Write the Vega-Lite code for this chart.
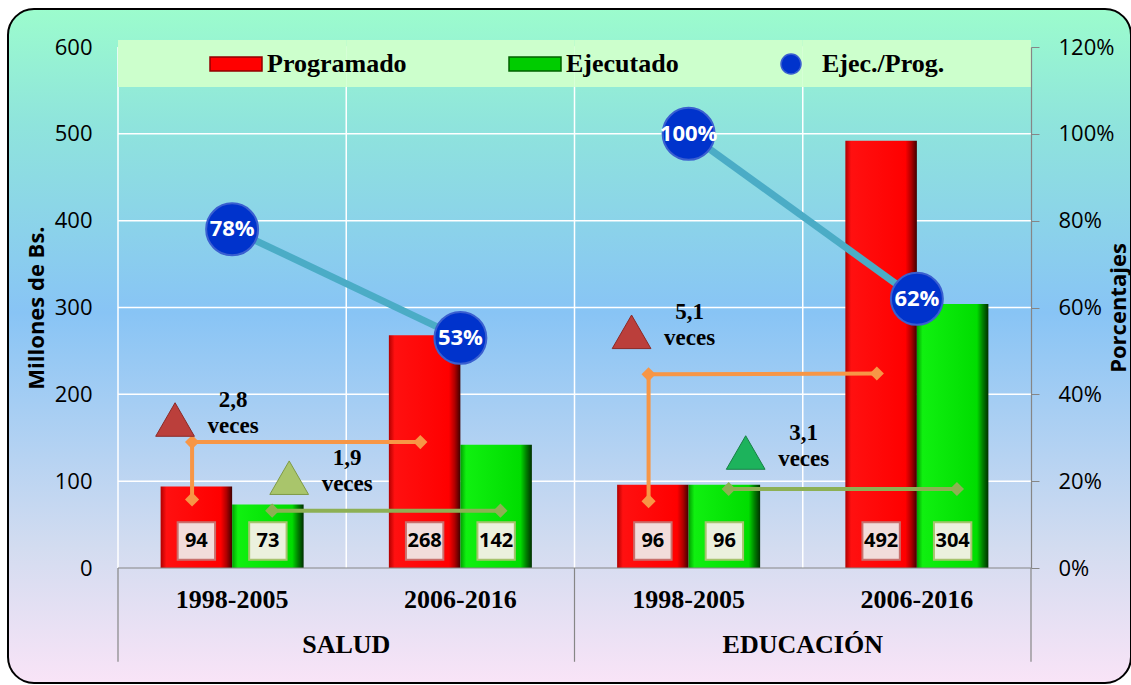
{
  "$schema": "https://vega.github.io/schema/vega-lite/v6.json",
  "width": 1123,
  "height": 674,
  "autosize": {"type": "none"},
  "padding": {"left": 8, "top": 9, "right": 0, "bottom": 2},
  "background": "#ffffff",
  "datasets": {
    "valores": [
      {"cat": "SALUD|1998-2005", "grupo": "SALUD", "periodo": "1998-2005", "serie": "Programado", "valor": 94},
      {"cat": "SALUD|1998-2005", "grupo": "SALUD", "periodo": "1998-2005", "serie": "Ejecutado", "valor": 73},
      {"cat": "SALUD|2006-2016", "grupo": "SALUD", "periodo": "2006-2016", "serie": "Programado", "valor": 268},
      {"cat": "SALUD|2006-2016", "grupo": "SALUD", "periodo": "2006-2016", "serie": "Ejecutado", "valor": 142},
      {"cat": "EDUCACIÓN|1998-2005", "grupo": "EDUCACIÓN", "periodo": "1998-2005", "serie": "Programado", "valor": 96},
      {"cat": "EDUCACIÓN|1998-2005", "grupo": "EDUCACIÓN", "periodo": "1998-2005", "serie": "Ejecutado", "valor": 96},
      {"cat": "EDUCACIÓN|2006-2016", "grupo": "EDUCACIÓN", "periodo": "2006-2016", "serie": "Programado", "valor": 492},
      {"cat": "EDUCACIÓN|2006-2016", "grupo": "EDUCACIÓN", "periodo": "2006-2016", "serie": "Ejecutado", "valor": 304}
    ],
    "ratio": [
      {"cat": "SALUD|1998-2005", "grupo": "SALUD", "periodo": "1998-2005", "serie": "Ejec./Prog.", "pct": 0.78},
      {"cat": "SALUD|2006-2016", "grupo": "SALUD", "periodo": "2006-2016", "serie": "Ejec./Prog.", "pct": 0.53},
      {"cat": "EDUCACIÓN|1998-2005", "grupo": "EDUCACIÓN", "periodo": "1998-2005", "serie": "Ejec./Prog.", "pct": 1.0},
      {"cat": "EDUCACIÓN|2006-2016", "grupo": "EDUCACIÓN", "periodo": "2006-2016", "serie": "Ejec./Prog.", "pct": 0.62}
    ],
    "rejilla": [{"v": 100}, {"v": 200}, {"v": 300}, {"v": 400}, {"v": 500}, {"v": 600}],
    "veces": [
      {"cat": "SALUD|1998-2005", "grupo": "SALUD", "serie": "Programado", "nivel": 171, "texto": "2,8 veces"},
      {"cat": "SALUD|1998-2005", "grupo": "SALUD", "serie": "Ejecutado", "nivel": 104, "texto": "1,9 veces"},
      {"cat": "EDUCACIÓN|1998-2005", "grupo": "EDUCACIÓN", "serie": "Programado", "nivel": 272, "texto": "5,1 veces"},
      {"cat": "EDUCACIÓN|1998-2005", "grupo": "EDUCACIÓN", "serie": "Ejecutado", "nivel": 133, "texto": "3,1 veces"}
    ],
    "conectores": [
      {"cat": "SALUD|1998-2005", "grupo": "SALUD", "serie": "Programado", "orden": 1, "nivel": 79},
      {"cat": "SALUD|1998-2005", "grupo": "SALUD", "serie": "Programado", "orden": 2, "nivel": 145},
      {"cat": "SALUD|2006-2016", "grupo": "SALUD", "serie": "Programado", "orden": 3, "nivel": 145},
      {"cat": "SALUD|1998-2005", "grupo": "SALUD", "serie": "Ejecutado", "orden": 1, "nivel": 66},
      {"cat": "SALUD|2006-2016", "grupo": "SALUD", "serie": "Ejecutado", "orden": 2, "nivel": 66},
      {"cat": "EDUCACIÓN|1998-2005", "grupo": "EDUCACIÓN", "serie": "Programado", "orden": 1, "nivel": 77},
      {"cat": "EDUCACIÓN|1998-2005", "grupo": "EDUCACIÓN", "serie": "Programado", "orden": 2, "nivel": 223},
      {"cat": "EDUCACIÓN|2006-2016", "grupo": "EDUCACIÓN", "serie": "Programado", "orden": 3, "nivel": 224},
      {"cat": "EDUCACIÓN|1998-2005", "grupo": "EDUCACIÓN", "serie": "Ejecutado", "orden": 1, "nivel": 91},
      {"cat": "EDUCACIÓN|2006-2016", "grupo": "EDUCACIÓN", "serie": "Ejecutado", "orden": 2, "nivel": 91}
    ]
  },
  "layer": [
    {
      "data": {"values": [{}]},
      "mark": {
        "type": "rect",
        "fill": {"gradient": "linear", "x1": 0, "y1": 0, "x2": 0, "y2": 1, "stops": [
          {"offset": 0, "color": "#9cfccd"},
          {"offset": 0.17, "color": "#8fe4dc"},
          {"offset": 0.45, "color": "#88c4f5"},
          {"offset": 0.8, "color": "#d3dcf0"},
          {"offset": 1, "color": "#f9e4f7"}
        ]},
        "stroke": "#000000",
        "strokeWidth": 2,
        "cornerRadius": 26
      },
      "encoding": {}
    },
    {
      "data": {"name": "rejilla"},
      "mark": {"type": "rule", "color": "#ffffff", "strokeWidth": 1.5},
      "encoding": {
        "x": {"datum": "SALUD|1998-2005", "type": "nominal", "bandPosition": 0, "axis": null, "title": null},
        "x2": {"datum": "EDUCACIÓN|2006-2016", "bandPosition": 1},
        "y": {"field": "v", "type": "quantitative", "axis": null, "scale": {"domain": [0, 600], "nice": false, "zero": true, "range": [559, 38]}}
      }
    },
    {
      "data": {"name": "ratio"},
      "mark": {"type": "rule", "color": "#ffffff", "strokeWidth": 1.5},
      "encoding": {
        "x": {"field": "cat", "type": "nominal", "bandPosition": 0, "axis": null, "title": null},
        "y": {"datum": 0, "type": "quantitative", "axis": null, "scale": {"domain": [0, 600], "nice": false, "zero": true, "range": [559, 38]}},
        "y2": {"datum": 600}
      }
    },
    {
      "data": {"name": "ratio"},
      "mark": {"type": "bar", "width": {"band": 1}, "fill": "#ccffcc", "stroke": null},
      "encoding": {
        "x": {"field": "cat", "type": "nominal", "axis": null, "title": null},
        "y": {"datum": 608, "type": "quantitative", "axis": null, "scale": {"domain": [0, 600], "nice": false, "zero": true, "range": [559, 38]}},
        "y2": {"datum": 554}
      }
    },
    {
      "data": {"name": "valores"},
      "mark": {"type": "bar", "stroke": null},
      "encoding": {
        "x": {
          "field": "cat",
          "type": "nominal",
          "title": null,
          "sort": null,
          "scale": {
            "type": "band",
            "domain": ["SALUD|1998-2005", "SALUD|2006-2016", "EDUCACIÓN|1998-2005", "EDUCACIÓN|2006-2016"],
            "range": [110, 1023],
            "paddingInner": 0,
            "paddingOuter": 0
          },
          "axis": null
        },
        "xOffset": {"field": "serie", "type": "nominal", "sort": null, "scale": {"type": "band", "domain": ["Programado", "Ejecutado"], "paddingInner": 0, "paddingOuter": 0.596}},
        "y": {
          "field": "valor",
          "type": "quantitative",
          "scale": {"domain": [0, 600], "nice": false, "zero": true, "range": [559, 38]},
          "axis": {
            "orient": "left",
            "offset": -110,
            "zindex": 1,
            "values": [0, 100, 200, 300, 400, 500, 600],
            "domain": false,
            "ticks": false,
            "grid": false,
            "labelPadding": 26,
            "labelFont": "Open Sans",
            "labelFontSize": 22,
            "labelColor": "#000000",
            "title": "Millones de Bs.",
            "titleFont": "Open Sans",
            "titleFontSize": 22,
            "titleFontWeight": "bold",
            "titleColor": "#000000",
            "titlePadding": 6
          }
        },
        "fill": {
          "condition": {"test": "datum.serie === 'Programado'", "value": {"gradient": "linear", "x1": 0, "y1": 0, "x2": 1, "y2": 0, "stops": [
            {"offset": 0, "color": "#b00000"},
            {"offset": 0.08, "color": "#ff1010"},
            {"offset": 0.84, "color": "#ff0000"},
            {"offset": 0.92, "color": "#b00000"},
            {"offset": 1, "color": "#400000"}
          ]}},
          "value": {"gradient": "linear", "x1": 0, "y1": 0, "x2": 1, "y2": 0, "stops": [
            {"offset": 0, "color": "#00a000"},
            {"offset": 0.08, "color": "#10f010"},
            {"offset": 0.84, "color": "#00dd00"},
            {"offset": 0.92, "color": "#008000"},
            {"offset": 1, "color": "#003000"}
          ]}
        }
      }
    },
    {
      "data": {"name": "valores"},
      "mark": {"type": "point", "shape": "square", "size": 1400, "filled": true, "opacity": 1, "strokeWidth": 2},
      "encoding": {
        "x": {"field": "cat", "type": "nominal", "axis": null, "title": null},
        "xOffset": {"field": "serie", "type": "nominal", "sort": null, "scale": {"type": "band", "domain": ["Programado", "Ejecutado"], "paddingInner": 0, "paddingOuter": 0.596}},
        "y": {"datum": 31, "type": "quantitative", "axis": null, "scale": {"domain": [0, 600], "nice": false, "zero": true, "range": [559, 38]}},
        "fill": {"condition": {"test": "datum.serie === 'Programado'", "value": "#f2dcdb"}, "value": "#ebf1de"},
        "stroke": {"condition": {"test": "datum.serie === 'Programado'", "value": "#c9706d"}, "value": "#a6c46e"}
      }
    },
    {
      "data": {"name": "valores"},
      "mark": {"type": "text", "font": "Open Sans", "fontWeight": "bold", "fontSize": 20, "color": "#000000", "baseline": "middle", "align": "center"},
      "encoding": {
        "x": {"field": "cat", "type": "nominal", "axis": null, "title": null},
        "xOffset": {"field": "serie", "type": "nominal", "sort": null, "scale": {"type": "band", "domain": ["Programado", "Ejecutado"], "paddingInner": 0, "paddingOuter": 0.596}},
        "y": {"datum": 31, "type": "quantitative", "axis": null, "scale": {"domain": [0, 600], "nice": false, "zero": true, "range": [559, 38]}},
        "text": {"field": "valor", "type": "quantitative"}
      }
    },
    {
      "data": {"name": "ratio"},
      "transform": [{"filter": "datum.cat === 'SALUD|1998-2005'"}],
      "mark": {"type": "rule", "color": "#868686", "strokeWidth": 1.2},
      "encoding": {
        "x": {"datum": "SALUD|1998-2005", "type": "nominal", "bandPosition": 0, "axis": null, "title": null},
        "x2": {"datum": "EDUCACIÓN|2006-2016", "bandPosition": 1},
        "y": {"datum": 0, "type": "quantitative", "axis": null, "scale": {"domain": [0, 600], "nice": false, "zero": true, "range": [559, 38]}}
      }
    },
    {
      "data": {"name": "ratio"},
      "transform": [{"filter": "datum.periodo === '1998-2005'"}],
      "mark": {"type": "rule", "color": "#868686", "strokeWidth": 1.2},
      "encoding": {
        "x": {"field": "cat", "type": "nominal", "bandPosition": 0, "axis": null, "title": null},
        "y": {"datum": 0, "type": "quantitative", "axis": null, "scale": {"domain": [0, 600], "nice": false, "zero": true, "range": [559, 38]}},
        "y2": {"datum": -108}
      }
    },
    {
      "data": {"name": "ratio"},
      "transform": [{"filter": "datum.cat === 'EDUCACIÓN|2006-2016'"}],
      "mark": {"type": "rule", "color": "#868686", "strokeWidth": 1.2},
      "encoding": {
        "x": {"field": "cat", "type": "nominal", "bandPosition": 1, "axis": null, "title": null},
        "y": {"datum": 0, "type": "quantitative", "axis": null, "scale": {"domain": [0, 600], "nice": false, "zero": true, "range": [559, 38]}},
        "y2": {"datum": -108}
      }
    },
    {
      "data": {"name": "ratio"},
      "mark": {"type": "text", "font": "Liberation Serif", "fontWeight": "bold", "fontSize": 26, "color": "#000000", "baseline": "middle", "align": "center"},
      "encoding": {
        "x": {"field": "cat", "type": "nominal", "axis": null, "title": null},
        "y": {"datum": -37, "type": "quantitative", "axis": null, "scale": {"domain": [0, 600], "nice": false, "zero": true, "range": [559, 38]}},
        "text": {"field": "periodo"}
      }
    },
    {
      "data": {"name": "ratio"},
      "transform": [{"filter": "datum.periodo === '2006-2016'"}],
      "mark": {"type": "text", "font": "Liberation Serif", "fontWeight": "bold", "fontSize": 26, "color": "#000000", "baseline": "middle", "align": "center"},
      "encoding": {
        "x": {"field": "cat", "type": "nominal", "bandPosition": 0, "axis": null, "title": null},
        "y": {"datum": -89, "type": "quantitative", "axis": null, "scale": {"domain": [0, 600], "nice": false, "zero": true, "range": [559, 38]}},
        "text": {"field": "grupo"}
      }
    },
    {
      "data": {"name": "conectores"},
      "mark": {"type": "line", "strokeWidth": 4, "point": {"shape": "diamond", "size": 200, "filled": true, "opacity": 1}},
      "encoding": {
        "x": {"field": "cat", "type": "nominal", "axis": null, "title": null},
        "xOffset": {"field": "serie", "type": "nominal", "sort": null, "scale": {"type": "band", "domain": ["Programado", "Ejecutado"], "paddingInner": 0, "paddingOuter": 0.425}},
        "y": {"field": "nivel", "type": "quantitative", "axis": null, "scale": {"domain": [0, 600], "nice": false, "zero": true, "range": [559, 38]}},
        "detail": [{"field": "grupo"}, {"field": "serie"}],
        "order": {"field": "orden", "type": "quantitative"},
        "color": {"condition": {"test": "datum.serie === 'Programado'", "value": "#f79646"}, "value": "#8db054"}
      }
    },
    {
      "data": {"name": "veces"},
      "mark": {"type": "point", "shape": "triangle-up", "size": 1500, "filled": true, "opacity": 1, "strokeWidth": 1},
      "encoding": {
        "x": {"field": "cat", "type": "nominal", "axis": null, "title": null},
        "xOffset": {"field": "serie", "type": "nominal", "sort": null, "scale": {"type": "band", "domain": ["Programado", "Ejecutado"], "paddingInner": 0, "paddingOuter": 0}},
        "y": {"field": "nivel", "type": "quantitative", "axis": null, "scale": {"domain": [0, 600], "nice": false, "zero": true, "range": [559, 38]}},
        "fill": {"condition": [
          {"test": "datum.serie === 'Programado'", "value": "#bb3f3b"},
          {"test": "datum.grupo === 'SALUD'", "value": "#a9c56b"}
        ], "value": "#1db35c"},
        "stroke": {"condition": [
          {"test": "datum.serie === 'Programado'", "value": "#8b2a27"},
          {"test": "datum.grupo === 'SALUD'", "value": "#7f9a45"}
        ], "value": "#178045"}
      }
    },
    {
      "data": {"name": "veces"},
      "mark": {"type": "text", "font": "Liberation Serif", "fontWeight": "bold", "fontSize": 23, "color": "#000000", "baseline": "middle", "align": "center", "lineBreak": " ", "lineHeight": 26, "dx": 58, "dy": -20},
      "encoding": {
        "x": {"field": "cat", "type": "nominal", "axis": null, "title": null},
        "xOffset": {"field": "serie", "type": "nominal", "sort": null, "scale": {"type": "band", "domain": ["Programado", "Ejecutado"], "paddingInner": 0, "paddingOuter": 0}},
        "y": {"field": "nivel", "type": "quantitative", "axis": null, "scale": {"domain": [0, 600], "nice": false, "zero": true, "range": [559, 38]}},
        "text": {"field": "texto"}
      }
    },
    {
      "data": {"name": "ratio"},
      "mark": {"type": "line", "color": "#4bacc6", "strokeWidth": 7},
      "encoding": {
        "x": {"field": "cat", "type": "nominal", "axis": null, "title": null},
        "y": {
          "field": "pct",
          "type": "quantitative",
          "scale": {"domain": [0, 1.2], "nice": false, "zero": true, "range": [559, 38]},
          "axis": {
            "orient": "right",
            "offset": -100,
            "zindex": 1,
            "values": [0, 0.2, 0.4, 0.6, 0.8, 1, 1.2],
            "format": ".0%",
            "grid": false,
            "domain": true,
            "domainColor": "#868686",
            "domainWidth": 1.2,
            "ticks": true,
            "tickColor": "#868686",
            "tickSize": 8,
            "labelPadding": 19,
            "labelFont": "Open Sans",
            "labelFontSize": 22,
            "labelColor": "#000000",
            "title": "Porcentajes",
            "titleFont": "Open Sans",
            "titleFontSize": 22,
            "titleFontWeight": "bold",
            "titleColor": "#000000",
            "titleAngle": 270,
            "titlePadding": 17
          }
        },
        "detail": {"field": "grupo"}
      }
    },
    {
      "data": {"name": "ratio"},
      "mark": {"type": "point", "size": 2700, "filled": true, "opacity": 1, "strokeWidth": 2},
      "encoding": {
        "x": {"field": "cat", "type": "nominal", "axis": null, "title": null},
        "y": {"field": "pct", "type": "quantitative", "axis": null, "scale": {"domain": [0, 1.2], "nice": false, "zero": true, "range": [559, 38]}},
        "color": {
          "field": "serie",
          "type": "nominal",
          "scale": {"domain": ["Programado", "Ejecutado", "Ejec./Prog."], "range": ["#ff0000", "#00cc00", "#0033cc"]},
          "legend": {
            "orient": "none",
            "legendX": 215,
            "legendY": 42,
            "direction": "horizontal",
            "columns": 3,
            "title": null,
            "padding": 0,
            "symbolSize": 400,
            "symbolStrokeWidth": 1.5,
            "symbolOpacity": 1,
            "labelOffset": 18,
            "columnPadding": 99,
            "labelFont": "Liberation Serif",
            "labelFontSize": 26,
            "labelFontWeight": "bold",
            "labelColor": "#000000",
            "labelLimit": 400
          }
        },
        "shape": {
          "field": "serie",
          "type": "nominal",
          "scale": {"domain": ["Programado", "Ejecutado", "Ejec./Prog."], "range": ["M-2.6,-0.7H2.6V0.7H-2.6Z", "M-2.6,-0.7H2.6V0.7H-2.6Z", "circle"]},
          "legend": {"title": null}
        },
        "stroke": {
          "field": "serie",
          "type": "nominal",
          "scale": {"domain": ["Programado", "Ejecutado", "Ejec./Prog."], "range": ["#900000", "#006000", "#3a5fd0"]},
          "legend": {"title": null}
        }
      }
    },
    {
      "data": {"name": "ratio"},
      "mark": {"type": "text", "font": "Open Sans", "fontWeight": "bold", "fontSize": 22, "color": "#ffffff", "baseline": "middle", "align": "center"},
      "encoding": {
        "x": {"field": "cat", "type": "nominal", "axis": null, "title": null},
        "y": {"field": "pct", "type": "quantitative", "axis": null, "scale": {"domain": [0, 1.2], "nice": false, "zero": true, "range": [559, 38]}},
        "text": {"field": "pct", "type": "quantitative", "format": ".0%"}
      }
    }
  ],
  "resolve": {"scale": {"y": "independent", "xOffset": "independent"}},
  "config": {
    "view": {"stroke": null},
    "axis": {"labelOverlap": false, "labelFlush": false}
  }
}
